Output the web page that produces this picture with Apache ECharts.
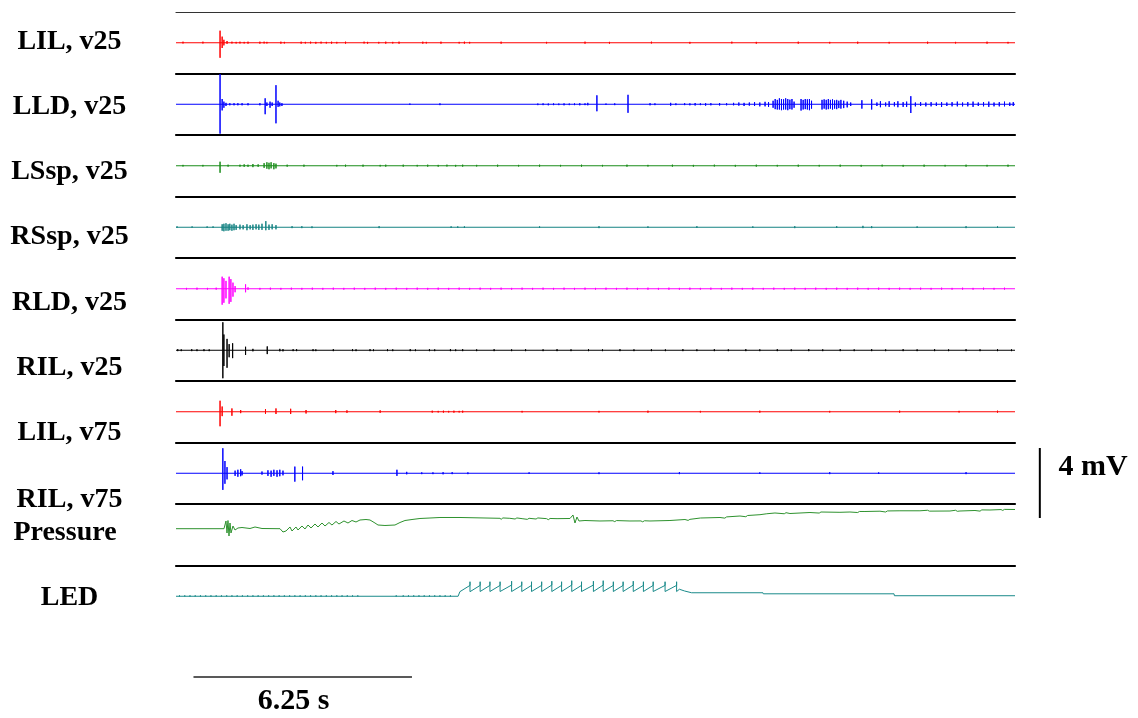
<!DOCTYPE html>
<html>
<head>
<meta charset="utf-8">
<script src="https://cdn.jsdelivr.net/npm/echarts@6/dist/echarts.min.js"></script>
<style>
  html, body { margin: 0; padding: 0; background: #ffffff; }
  #chart { width: 1138px; height: 718px; }
</style>
</head>
<body>
<div id="chart"></div>
<script>
// ---- Recording channels (top to bottom) ----
const channelNames = ['LIL, v25', 'LLD, v25', 'LSsp, v25', 'RSsp, v25', 'RLD, v25',
                      'RIL, v25', 'LIL, v75', 'RIL, v75', 'Pressure', 'LED'];

// Recording length in seconds
const recordStart = 0;
const recordEnd = 24;

// Scale bars
const scaleVoltage = 4;      // mV
const scaleVoltageLabel = '4 mV';
const scaleTime = 6.25;      // s
const scaleTimeLabel = '6.25 s';

// EMG events per channel: [time (s), peak above baseline (mV), trough below baseline (mV)]
const lilV25 = [
  [0.2,0.06,0.04],[0.77,0.06,0.04],[1.26,0.69,0.86],[1.32,0.35,0.3],[1.37,0.17,0.15],[1.46,0.1,0.06],
  [1.6,0.06,0.04],[1.72,0.05,0.04],[1.83,0.06,0.04],[1.95,0.05,0.04],[2.06,0.06,0.05],[2.4,0.06,0.05],
  [2.52,0.06,0.04],[2.6,0.05,0.04],[3.0,0.06,0.05],[3.1,0.05,0.04],[3.58,0.06,0.05],[3.7,0.05,0.04],
  [3.85,0.06,0.04],[4.0,0.05,0.05],[4.15,0.06,0.04],[4.3,0.05,0.04],[4.45,0.06,0.05],[4.6,0.05,0.04],
  [4.85,0.06,0.05],[5.38,0.06,0.04],[5.48,0.05,0.05],[5.8,0.05,0.04],[6.0,0.06,0.05],[6.2,0.05,0.04],
  [6.38,0.06,0.05],[7.06,0.06,0.05],[7.16,0.05,0.04],[7.58,0.06,0.05],[8.1,0.05,0.04],[8.25,0.06,0.05],
  [8.4,0.05,0.04],[9.3,0.06,0.05],[10.6,0.05,0.04],[11.7,0.06,0.05],[12.4,0.05,0.05],[13.6,0.06,0.04],
  [14.7,0.05,0.05],[15.9,0.06,0.04],[16.6,0.05,0.05],[17.8,0.06,0.05],[18.7,0.05,0.04],[19.5,0.06,0.05],
  [20.4,0.05,0.04],[21.5,0.06,0.05],[22.3,0.05,0.04],[23.2,0.06,0.05],[23.8,0.05,0.04]
];
const lldV25 = [
  [1.26,1.72,1.68],[1.32,0.3,0.35],[1.37,0.15,0.2],[1.43,0.08,0.1],[1.54,0.06,0.06],[1.66,0.06,0.06],
  [1.77,0.06,0.06],[1.89,0.06,0.06],[2.06,0.06,0.06],[2.4,0.06,0.06],[2.55,0.34,0.57],[2.6,0.1,0.1],
  [2.69,0.15,0.2],[2.75,0.1,0.1],[2.86,1.09,1.09],[2.92,0.2,0.15],[2.97,0.1,0.12],[3.03,0.06,0.1],
  [6.69,0.04,0.04],[7.55,0.05,0.05],
  [10.35,0.04,0.05],[10.5,0.05,0.05],[10.65,0.04,0.06],[10.8,0.05,0.05],[10.95,0.04,0.05],[11.1,0.05,0.06],
  [11.25,0.04,0.05],[11.4,0.05,0.05],[11.55,0.06,0.06],[11.7,0.05,0.05],[11.78,0.08,0.06],
  [12.04,0.51,0.4],[12.3,0.04,0.04],[12.55,0.05,0.05],[12.93,0.54,0.49],[13.56,0.06,0.06],[13.7,0.05,0.05],
  [14.15,0.08,0.08],[14.3,0.05,0.05],[14.55,0.06,0.05],[14.7,0.05,0.06],[14.85,0.07,0.07],[15.0,0.05,0.05],
  [15.15,0.06,0.08],[15.3,0.06,0.06],[15.55,0.07,0.07],[15.75,0.06,0.06],[15.95,0.08,0.06],[16.1,0.1,0.08],
  [16.25,0.08,0.1],[16.4,0.1,0.08],[16.55,0.12,0.1],[16.7,0.1,0.12],[16.85,0.14,0.12],[16.95,0.12,0.15],
  [17.08,0.2,0.2],[17.14,0.3,0.28],[17.2,0.25,0.3],[17.26,0.34,0.3],[17.32,0.3,0.34],[17.38,0.28,0.3],
  [17.44,0.34,0.3],[17.5,0.3,0.34],[17.56,0.26,0.28],[17.62,0.3,0.3],[17.68,0.15,0.2],
  [17.88,0.3,0.36],[17.94,0.25,0.3],[18.0,0.3,0.28],[18.06,0.28,0.3],[18.12,0.3,0.34],[18.18,0.2,0.25],
  [18.48,0.25,0.3],[18.54,0.28,0.25],[18.6,0.25,0.3],[18.66,0.3,0.28],[18.72,0.25,0.25],[18.78,0.28,0.3],
  [18.84,0.22,0.25],[18.9,0.25,0.28],[18.96,0.2,0.22],[19.02,0.25,0.25],[19.1,0.2,0.22],[19.2,0.15,0.18],
  [19.3,0.1,0.1],[19.62,0.23,0.25],[19.9,0.28,0.3],[20.05,0.1,0.1],[20.15,0.17,0.17],[20.3,0.1,0.12],
  [20.4,0.17,0.15],[20.55,0.12,0.12],[20.65,0.17,0.17],[20.8,0.12,0.15],[20.9,0.15,0.15],[21.02,0.46,0.5],
  [21.15,0.1,0.12],[21.3,0.12,0.1],[21.45,0.1,0.12],[21.6,0.12,0.12],[21.75,0.1,0.1],[21.9,0.12,0.15],
  [22.05,0.1,0.1],[22.2,0.12,0.12],[22.35,0.15,0.12],[22.5,0.1,0.12],[22.65,0.12,0.12],[22.8,0.15,0.15],
  [22.95,0.1,0.1],[23.1,0.12,0.12],[23.25,0.15,0.15],[23.4,0.1,0.12],[23.55,0.12,0.12],[23.7,0.15,0.12],
  [23.85,0.1,0.1],[23.95,0.12,0.1]
];
const lsspV25 = [
  [0.2,0.05,0.04],[0.77,0.05,0.04],[1.26,0.23,0.4],[1.49,0.06,0.05],[1.83,0.06,0.05],[1.95,0.08,0.06],
  [2.06,0.06,0.06],[2.2,0.1,0.08],[2.35,0.08,0.06],[2.52,0.15,0.12],[2.6,0.2,0.17],[2.66,0.17,0.2],
  [2.72,0.2,0.15],[2.8,0.15,0.2],[2.86,0.12,0.15],[3.18,0.06,0.05],[3.66,0.06,0.05],[4.6,0.05,0.04],
  [4.85,0.06,0.05],[5.35,0.06,0.05],[5.84,0.05,0.04],[6.0,0.06,0.05],[6.5,0.06,0.05],[6.9,0.05,0.04],
  [7.2,0.06,0.05],[7.5,0.05,0.05],[7.75,0.06,0.04],[8.0,0.05,0.05],[8.2,0.06,0.05],[8.6,0.05,0.04],
  [9.2,0.06,0.05],[9.8,0.05,0.04],[10.4,0.06,0.05],[11.0,0.05,0.04],[11.6,0.06,0.05],[12.2,0.05,0.04],
  [12.9,0.06,0.05],[13.5,0.05,0.04],[14.2,0.06,0.05],[14.8,0.05,0.05],[15.4,0.06,0.04],[16.0,0.05,0.05],
  [16.6,0.06,0.05],[17.2,0.05,0.04],[17.8,0.06,0.05],[18.4,0.05,0.04],[19.0,0.06,0.05],[19.6,0.05,0.05],
  [20.2,0.06,0.04],[20.8,0.05,0.05],[21.4,0.06,0.05],[22.0,0.05,0.04],[22.6,0.06,0.05],[23.2,0.05,0.04],
  [23.8,0.06,0.05]
];
const rsspV25 = [
  [0.03,0.05,0.03],[0.46,0.05,0.03],[0.89,0.05,0.04],[1.06,0.05,0.04],[1.32,0.17,0.2],[1.37,0.2,0.23],
  [1.43,0.23,0.2],[1.49,0.17,0.2],[1.54,0.2,0.17],[1.6,0.15,0.2],[1.66,0.2,0.17],[1.72,0.12,0.15],
  [1.83,0.15,0.12],[1.92,0.12,0.12],[2.03,0.17,0.17],[2.12,0.12,0.12],[2.2,0.15,0.15],[2.29,0.17,0.12],
  [2.37,0.15,0.15],[2.46,0.2,0.15],[2.57,0.35,0.17],[2.66,0.15,0.15],[2.75,0.17,0.12],[2.86,0.12,0.12],
  [3.32,0.06,0.05],[3.6,0.06,0.05],[3.89,0.05,0.05],[5.81,0.06,0.05],[7.87,0.05,0.04],[8.06,0.05,0.04],
  [8.25,0.05,0.04],[10.4,0.05,0.04],[12.1,0.06,0.05],[13.5,0.05,0.04],[14.9,0.06,0.04],[16.5,0.05,0.04],
  [17.7,0.06,0.05],[18.9,0.06,0.04],[19.65,0.08,0.05],[19.9,0.06,0.05],[21.2,0.05,0.04],[22.6,0.06,0.05],
  [23.5,0.05,0.04]
];
const rldV25 = [
  [0.3,0.05,0.05],[0.6,0.06,0.05],[0.9,0.05,0.05],[1.15,0.06,0.05],
  [1.32,0.69,0.91],[1.37,0.6,0.8],[1.43,0.45,0.55],[1.52,0.69,0.86],[1.57,0.55,0.75],[1.63,0.35,0.45],
  [1.69,0.15,0.2],[1.99,0.25,0.2],[2.06,0.08,0.06],
  [2.4,0.05,0.05],[2.7,0.06,0.05],[3.0,0.05,0.05],[3.3,0.06,0.05],[3.6,0.05,0.05],[3.9,0.06,0.05],
  [4.2,0.05,0.05],[4.5,0.06,0.05],[4.8,0.05,0.05],[5.1,0.06,0.05],[5.4,0.05,0.05],[5.7,0.06,0.05],
  [6.0,0.05,0.05],[6.3,0.06,0.05],[6.6,0.05,0.05],[6.9,0.06,0.05],[7.2,0.05,0.05],[7.5,0.06,0.05],
  [7.8,0.05,0.05],[8.1,0.06,0.05],[8.4,0.05,0.05],[8.7,0.06,0.05],[9.0,0.05,0.05],[9.3,0.06,0.05],
  [9.6,0.05,0.05],[9.9,0.06,0.05],[10.2,0.05,0.05],[10.5,0.06,0.05],[10.8,0.05,0.05],[11.1,0.06,0.05],
  [11.4,0.05,0.05],[11.7,0.06,0.05],[12.0,0.05,0.05],[12.3,0.06,0.05],[12.6,0.05,0.05],[12.9,0.06,0.05],
  [13.2,0.05,0.05],[13.5,0.06,0.05],[13.8,0.05,0.05],[14.1,0.06,0.05],[14.4,0.05,0.05],[14.7,0.06,0.05],
  [15.0,0.05,0.05],[15.3,0.06,0.05],[15.6,0.05,0.05],[15.9,0.06,0.05],[16.2,0.05,0.05],[16.5,0.06,0.05],
  [16.8,0.05,0.05],[17.1,0.06,0.05],[17.4,0.05,0.05],[17.7,0.06,0.05],[18.0,0.05,0.05],[18.3,0.06,0.05],
  [18.6,0.05,0.05],[18.9,0.06,0.05],[19.2,0.05,0.05],[19.5,0.06,0.05],[19.8,0.05,0.05],[20.1,0.06,0.05],
  [20.4,0.05,0.05],[20.7,0.06,0.05],[21.0,0.05,0.05],[21.3,0.06,0.05],[21.6,0.05,0.05],[21.9,0.06,0.05],
  [22.2,0.05,0.05],[22.5,0.06,0.05],[22.8,0.05,0.05],[23.1,0.06,0.05],[23.4,0.05,0.05],[23.7,0.06,0.05]
];
const rilV25 = [
  [0.05,0.06,0.05],[0.15,0.05,0.05],[0.45,0.06,0.05],[0.6,0.05,0.05],[0.8,0.06,0.05],[0.95,0.05,0.05],
  [1.34,1.6,1.6],[1.37,0.9,0.9],[1.46,0.65,1.0],[1.52,0.35,0.4],[1.62,0.4,0.45],[1.99,0.2,0.27],
  [2.2,0.08,0.06],[2.61,0.22,0.22],[2.97,0.08,0.06],[3.06,0.06,0.06],[3.35,0.06,0.05],[3.45,0.06,0.05],
  [3.92,0.06,0.05],[4.0,0.05,0.05],[4.5,0.06,0.05],[5.05,0.06,0.05],[5.15,0.05,0.05],[5.55,0.06,0.05],
  [5.65,0.05,0.05],[6.05,0.06,0.05],[6.2,0.05,0.05],[6.7,0.06,0.05],[6.85,0.05,0.05],[7.25,0.06,0.05],
  [7.4,0.05,0.05],[7.85,0.06,0.05],[8.0,0.05,0.05],[8.2,0.06,0.05],[8.6,0.05,0.05],[9.1,0.06,0.05],
  [9.6,0.05,0.05],[10.0,0.06,0.05],[10.5,0.05,0.05],[10.9,0.06,0.05],[11.3,0.05,0.05],[11.8,0.06,0.05],
  [12.2,0.05,0.05],[12.7,0.06,0.05],[13.1,0.05,0.05],[13.6,0.06,0.05],[14.0,0.05,0.05],[14.5,0.06,0.05],
  [14.9,0.05,0.05],[15.4,0.06,0.05],[15.8,0.05,0.05],[16.3,0.06,0.05],[16.7,0.05,0.05],[17.2,0.06,0.05],
  [17.6,0.05,0.05],[18.1,0.06,0.05],[18.5,0.05,0.05],[19.0,0.06,0.05],[19.4,0.05,0.05],[19.9,0.06,0.05],
  [20.3,0.05,0.05],[20.8,0.06,0.05],[21.2,0.05,0.05],[21.7,0.06,0.05],[22.1,0.05,0.05],[22.6,0.06,0.05],
  [23.0,0.05,0.05],[23.5,0.06,0.05],[23.9,0.05,0.05]
];
const lilV75 = [
  [1.26,0.63,0.83],[1.32,0.3,0.25],[1.6,0.19,0.23],[1.85,0.1,0.08],[2.56,0.15,0.12],[2.86,0.19,0.13],
  [3.28,0.17,0.13],[3.72,0.1,0.1],[4.57,0.1,0.08],[4.89,0.08,0.06],[5.84,0.08,0.06],[7.33,0.06,0.05],
  [7.5,0.05,0.04],[7.65,0.06,0.05],[7.8,0.05,0.04],[7.95,0.06,0.05],[8.1,0.05,0.04],[8.2,0.06,0.05],
  [9.9,0.05,0.04],[12.1,0.05,0.04],[13.5,0.06,0.05],[15.0,0.05,0.04],[16.7,0.06,0.05],[18.7,0.05,0.04],
  [20.7,0.06,0.05],[22.4,0.05,0.04],[23.5,0.06,0.05]
];
const rilV75 = [
  [1.34,1.43,0.95],[1.4,0.7,0.6],[1.46,0.35,0.35],[1.69,0.15,0.15],[1.77,0.2,0.2],[1.85,0.23,0.17],
  [1.89,0.12,0.12],[2.46,0.1,0.08],[2.63,0.17,0.15],[2.72,0.15,0.2],[2.8,0.2,0.15],[2.89,0.17,0.2],
  [2.97,0.2,0.17],[3.06,0.15,0.12],[3.4,0.38,0.48],[3.62,0.38,0.4],[4.49,0.12,0.1],[6.32,0.2,0.15],
  [6.6,0.08,0.06],[7.03,0.05,0.05],[7.35,0.05,0.05],[7.64,0.06,0.06],[7.9,0.06,0.05],[8.35,0.05,0.05],
  [10.1,0.05,0.04],[12.1,0.05,0.05],[14.4,0.06,0.05],[16.7,0.05,0.04],[18.7,0.06,0.05],[20.1,0.05,0.04],
  [22.6,0.06,0.05]
];

// Pressure trace: [time (s), level relative to channel centre]
const pressure = [
  [0,0.346],[1.373,0.346],[1.43,0.786],[1.459,0.1],[1.487,0.814],[1.516,-0.071],[1.545,0.671],[1.573,0.1],
  [1.63,0.5],[1.688,0.271],[1.773,0.386],[1.888,0.414],[2.117,0.357],[2.26,0.443],[2.46,0.357],[2.975,0.346],
  [3.06,0.157],[3.146,0.214],[3.261,0.443],[3.318,0.214],[3.432,0.443],[3.49,0.271],[3.604,0.5],[3.69,0.329],
  [3.776,0.557],[3.862,0.386],[3.976,0.614],[4.062,0.443],[4.176,0.671],[4.262,0.5],[4.376,0.7],[4.462,0.557],
  [4.577,0.757],[4.662,0.614],[4.805,0.786],[4.92,0.671],[5.034,0.814],[5.149,0.729],[5.263,0.843],[5.435,0.871],
  [5.549,0.843],[5.692,0.671],[5.778,0.557],[5.978,0.529],[6.264,0.557],[6.407,0.7],[6.55,0.814],[6.751,0.871],
  [6.979,0.929],[7.265,0.957],[7.551,0.986],[8.124,0.986],[9.268,0.94],[9.3,0.88],[9.35,0.96],[9.55,0.94],
  [9.7,0.9],[9.75,0.96],[9.9,0.92],[10.05,0.88],[10.1,0.94],[10.3,0.9],[10.35,0.96],[10.6,0.92],
  [10.65,0.86],[10.7,0.93],[10.9,0.92],[11.27,0.929],[11.356,1.129],[11.413,0.671],[11.47,1.014],
  [11.527,0.786],[11.699,0.814],[12.128,0.786],[12.5,0.8],[12.55,0.75],[12.6,0.81],[12.986,0.786],
  [13.3,0.79],[13.35,0.74],[13.4,0.8],[13.558,0.786],[14.13,0.814],[14.559,0.871],[14.65,0.82],[14.7,0.88],
  [15.0,0.957],[15.561,0.986],[15.7,0.95],[15.75,1.02],[16.133,1.071],[16.3,1.03],[16.35,1.1],[16.705,1.146],
  [16.9,1.2],[17.134,1.243],[17.4,1.2],[17.45,1.26],[17.563,1.214],[18.135,1.271],[18.4,1.24],[18.45,1.3],
  [18.993,1.283],[19.279,1.3],[19.5,1.27],[19.55,1.33],[19.708,1.329],[20.137,1.346],[20.3,1.3],[20.35,1.36],
  [20.709,1.369],[21.281,1.369],[21.5,1.4],[21.55,1.35],[22.14,1.357],[22.3,1.4],[22.35,1.34],[22.426,1.357],
  [22.855,1.386],[23.0,1.35],[23.05,1.42],[23.284,1.414],[23.6,1.44],[23.65,1.39],[23.7,1.45],[24.0,1.443]
];

// LED trace: idle noise ticks [time (s), peak (mV), trough (mV)]
const ledIdle = [
  [0.1,0.05,0.02],[0.25,0.05,0.02],[0.4,0.05,0.02],[0.55,0.05,0.02],[0.7,0.05,0.02],[0.85,0.05,0.02],
  [1.0,0.05,0.02],[1.15,0.05,0.02],[1.3,0.05,0.02],[1.45,0.05,0.02],[1.6,0.05,0.02],[1.75,0.05,0.02],
  [1.9,0.05,0.02],[2.05,0.05,0.02],[2.2,0.05,0.02],[2.35,0.05,0.02],[2.5,0.05,0.02],[2.65,0.05,0.02],
  [2.8,0.05,0.02],[2.95,0.05,0.02],[3.1,0.05,0.02],[3.25,0.05,0.02],[3.4,0.05,0.02],[3.55,0.05,0.02],
  [3.7,0.05,0.02],[3.85,0.05,0.02],[4.0,0.05,0.02],[4.15,0.05,0.02],[4.3,0.05,0.02],[4.45,0.05,0.02],
  [4.6,0.05,0.02],[4.75,0.05,0.02],[4.9,0.05,0.02],[5.05,0.05,0.02],[5.2,0.05,0.02],[6.3,0.05,0.02],
  [6.5,0.05,0.02],[6.65,0.05,0.02],[6.8,0.05,0.02],[6.95,0.05,0.02],[7.1,0.05,0.02],[7.25,0.05,0.02],
  [7.4,0.05,0.02],[7.55,0.05,0.02],[7.7,0.05,0.02],[7.85,0.05,0.02]
];
// LED onset: [time (s), level (mV)]
const ledOnset = [[8.07,0.0],[8.12,0.26]];
// LED stimulus teeth: [time (s), ramp level just before (mV), peak (mV), reset level (mV)]
const ledTeeth = [
  [8.41,0.62,0.83,0.26],[8.7,0.62,0.83,0.27],[8.98,0.62,0.83,0.27],[9.27,0.62,0.83,0.27],[9.6,0.64,0.86,0.27],
  [9.89,0.62,0.83,0.27],[10.17,0.62,0.83,0.27],[10.46,0.62,0.83,0.27],[10.75,0.64,0.86,0.27],[11.03,0.62,0.83,0.27],
  [11.32,0.64,0.89,0.27],[11.6,0.62,0.83,0.27],[11.94,0.64,0.86,0.27],[12.22,0.64,0.89,0.27],[12.51,0.62,0.83,0.27],
  [12.79,0.62,0.83,0.27],[13.08,0.64,0.86,0.27],[13.37,0.62,0.83,0.27],[13.65,0.62,0.83,0.27],[13.99,0.62,0.83,0.27],
  [14.32,0.62,0.83,0.27]
];
// LED after stimulation: [time (s), level (mV)]
const ledTail = [
  [14.4,0.4],[14.55,0.3],[14.75,0.2],[16.79,0.2],[16.8,0.14],[20.54,0.14],[20.55,0.03],[24.0,0.03]
];

// ---- Layout ----
const plotLeft = 176, plotWidth = 839;
const firstRowTop = 12, rowHeight = 61.5;
const pxPerMv = 17.5;
const rowHalfMv = rowHeight / pxPerMv / 2;
const traceColors = ['#ff0000', '#0000ff', '#1a8c1a', '#148282', '#ff00ff',
                     '#000000', '#ff0000', '#0000ff', '#2e922e', '#1a8a8a'];
const labelCenterX = [69.5, 69.5, 69.5, 69.5, 69.5, 69.5, 69.5, 69.5, 65, 69.5];
const labelCenterY = [41.5, 106.7, 171.7, 236.7, 303, 368, 433, 500, 532.7, 598];
const serifBold = 'bold 28px "Liberation Serif", "Times New Roman", serif';

// Turn an event list into a polyline around the baseline
function eventsToLine(events, t0, t1) {
  const pts = [[t0, 0]];
  events.forEach(function (e) {
    pts.push([e[0], 0], [e[0], e[1]], [e[0], -e[2]], [e[0], 0]);
  });
  pts.push([t1, 0]);
  return pts;
}
// Ramp-and-reset stimulus teeth
function teethToLine(teeth) {
  const pts = [];
  teeth.forEach(function (e) { pts.push([e[0], e[1]], [e[0], e[2]], [e[0], e[3]]); });
  return pts;
}

const lineData = [
  eventsToLine(lilV25, recordStart, recordEnd),
  eventsToLine(lldV25, recordStart, recordEnd),
  eventsToLine(lsspV25, recordStart, recordEnd),
  eventsToLine(rsspV25, recordStart, recordEnd),
  eventsToLine(rldV25, recordStart, recordEnd),
  eventsToLine(rilV25, recordStart, recordEnd),
  eventsToLine(lilV75, recordStart, recordEnd),
  eventsToLine(rilV75, recordStart, recordEnd),
  pressure,
  eventsToLine(ledIdle, recordStart, ledOnset[0][0]).concat(ledOnset, teethToLine(ledTeeth), ledTail)
];

const grids = [], xAxes = [], yAxes = [], series = [];
channelNames.forEach(function (name, i) {
  grids.push({ left: plotLeft, width: plotWidth, top: firstRowTop + i * rowHeight, height: rowHeight });
  xAxes.push({
    gridIndex: i, type: 'value', min: recordStart, max: recordEnd, position: 'top',
    axisLine: { show: true, onZero: false,
      lineStyle: i === 0 ? { color: '#333', width: 1.2 } : { color: '#000', width: 2.2 } },
    axisTick: { show: false }, axisLabel: { show: false }, splitLine: { show: false }
  });
  yAxes.push({
    gridIndex: i, type: 'value', min: -rowHalfMv, max: rowHalfMv, show: false,
    splitLine: { show: false }
  });
  // each trace is one polyline in its own row's cartesian system
  series.push({
    name: name, type: 'lines', coordinateSystem: 'cartesian2d', polyline: true,
    xAxisIndex: i, yAxisIndex: i, data: [{ coords: lineData[i] }],
    silent: true, animation: false, large: false, progressive: 0,
    lineStyle: { color: traceColors[i], width: 1, opacity: 1 }
  });
});

const chart = echarts.init(document.getElementById('chart'), null, { renderer: 'canvas' });
chart.setOption({
  backgroundColor: '#ffffff',
  animation: false,
  grid: grids, xAxis: xAxes, yAxis: yAxes, series: series
});

// Channel labels and scale bars
const graphics = channelNames.map(function (name, i) {
  return {
    type: 'text', x: labelCenterX[i], y: labelCenterY[i],
    style: { text: name, font: serifBold, fill: '#000', align: 'center', verticalAlign: 'middle' }
  };
});
const vTop = chart.convertToPixel({ gridIndex: 7 }, [24.71, 1.443]);
const vBot = chart.convertToPixel({ gridIndex: 7 }, [24.71, 1.443 - scaleVoltage]);
graphics.push({
  type: 'line', shape: { x1: vTop[0], y1: vTop[1], x2: vBot[0], y2: vBot[1] },
  style: { stroke: '#000', lineWidth: 2 }
});
graphics.push({
  type: 'text', x: 1093, y: 467.5,
  style: { text: scaleVoltageLabel, font: 'bold 30px "Liberation Serif", "Times New Roman", serif',
           fill: '#000', align: 'center', verticalAlign: 'middle' }
});
const hL = chart.convertToPixel({ gridIndex: 9 }, [0.5, 0]);
const hR = chart.convertToPixel({ gridIndex: 9 }, [0.5 + scaleTime, 0]);
graphics.push({
  type: 'line', shape: { x1: hL[0], y1: 677, x2: hR[0], y2: 677 },
  style: { stroke: '#222', lineWidth: 1.5 }
});
graphics.push({
  type: 'text', x: 293.5, y: 701,
  style: { text: scaleTimeLabel, font: 'bold 30px "Liberation Serif", "Times New Roman", serif',
           fill: '#000', align: 'center', verticalAlign: 'middle' }
});
chart.setOption({ graphic: graphics });
</script>
</body>
</html>
